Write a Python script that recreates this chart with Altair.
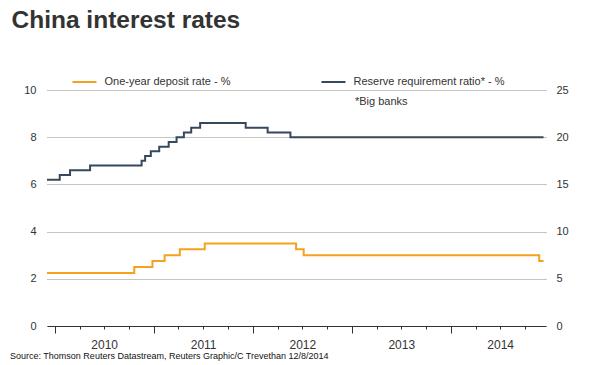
import altair as alt
import pandas as pd

TITLE = "China interest rates"
SOURCE = "Source: Thomson Reuters Datastream, Reuters Graphic/C Trevethan 12/8/2014"
NOTE = "*Big banks"
SERIES = ["One-year deposit rate - %", "Reserve requirement ratio* - %"]
COLORS = ["#F4A21E", "#36495C"]

dep_dates = ["2009-12-02", "2010-10-20", "2010-12-26", "2011-02-09", "2011-04-06",
             "2011-07-07", "2012-06-08", "2012-07-06", "2014-11-22", "2014-12-08"]
dep_values = [2.25, 2.50, 2.75, 3.00, 3.25, 3.50, 3.25, 3.00, 2.75, 2.75]

rrr_dates = ["2009-12-02", "2010-01-18", "2010-02-25", "2010-05-10", "2010-11-16",
             "2010-11-29", "2010-12-20", "2011-01-20", "2011-02-24", "2011-03-25",
             "2011-04-21", "2011-05-18", "2011-06-20", "2011-12-05", "2012-02-24",
             "2012-05-18", "2014-12-08"]
rrr_values = [15.5, 16.0, 16.5, 17.0, 17.5, 18.0, 18.5, 19.0, 19.5, 20.0, 20.5,
              21.0, 21.5, 21.0, 20.5, 20.0, 20.0]

left_ticks = [0, 2, 4, 6, 8, 10]
right_ticks = [0, 5, 10, 15, 20, 25]
years = [2010, 2011, 2012, 2013, 2014]

df_dep = pd.DataFrame({"date": dep_dates, "value": dep_values, "series": SERIES[0]})
df_rrr = pd.DataFrame({"date": rrr_dates, "value": rrr_values, "series": SERIES[1]})

quarters = [alt.DateTime(year=y, month=m, date=1) for y in years for m in [1, 4, 7, 10]]

x_scale = alt.Scale(domain=[alt.DateTime(year=2009, month=12, date=2),
                            alt.DateTime(year=2014, month=12, date=17)])
x_axis = alt.Axis(
    values=quarters,
    labelExpr="month(datum.value) == 6 ? timeFormat(datum.value, '%Y') : ''",
    tickSize={"condition": {"test": "month(datum.value) == 0", "value": 7}, "value": 3},
    tickColor="#333333",
    domainColor="#333333",
    labelFontSize=12,
    labelPadding=10,
    grid=False,
    title=None,
    labelFlush=False,
    labelOverlap=False,
)

color = alt.Color(
    "series:N",
    scale=alt.Scale(domain=SERIES, range=COLORS),
    legend=alt.Legend(
        orient="none", legendX=24.5, legendY=-21, direction="horizontal",
        symbolType="stroke", symbolSize=576, symbolStrokeWidth=2,
        labelFontSize=11, labelColor="#333333", labelOffset=7,
        columnPadding=87, title=None, padding=0,
    ),
)

dep = alt.Chart(df_dep).mark_line(interpolate="step-after", strokeWidth=2).encode(
    x=alt.X("date:T", scale=x_scale, axis=x_axis),
    y=alt.Y("value:Q", scale=alt.Scale(domain=[0, 10]),
            axis=alt.Axis(values=left_ticks, orient="left", title=None, domain=False,
                          ticks=False, labelPadding=11, grid=True, gridDash=[1, 1],
                          gridColor="#8a8a8a", labelFontSize=11)),
    color=color,
)

rrr = alt.Chart(df_rrr).mark_line(interpolate="step-after", strokeWidth=2).encode(
    x=alt.X("date:T", scale=x_scale, axis=x_axis),
    y=alt.Y("value:Q", scale=alt.Scale(domain=[0, 25]),
            axis=alt.Axis(values=right_ticks, orient="right", title=None, domain=False,
                          ticks=False, labelPadding=10, grid=False, labelFontSize=11)),
    color=color,
)

title_txt = alt.Chart(pd.DataFrame({"t": [TITLE]})).mark_text(
    align="left", baseline="alphabetic", fontSize=24.5, fontWeight="bold",
    font="Liberation Sans", color="#333333",
).encode(text="t:N", x=alt.value(-35.5), y=alt.value(-62.5))

note_txt = alt.Chart(pd.DataFrame({"t": [NOTE]})).mark_text(
    align="left", baseline="middle", fontSize=11, font="Liberation Sans", color="#333333",
).encode(text="t:N", x=alt.value(308), y=alt.value(12))

source_txt = alt.Chart(pd.DataFrame({"t": [SOURCE]})).mark_text(
    align="left", baseline="middle", fontSize=9,
    font="Liberation Sans Narrow, Arial Narrow, Liberation Sans", color="#111111",
).encode(text="t:N", x=alt.value(-37), y=alt.value(266))

chart = alt.layer(dep, rrr, title_txt, note_txt, source_txt).resolve_scale(
    y="independent"
).properties(
    width=499, height=236, autosize=alt.AutoSizeParams(type="none"),
    padding={"left": 39, "top": 82, "right": 41, "bottom": 39},
).configure_view(stroke=None).configure_axis(
    labelFont="Liberation Sans", labelColor="#333333"
).configure_legend(labelFont="Liberation Sans")

chart.save("out.html", embed_options={"renderer": "svg", "actions": False})
